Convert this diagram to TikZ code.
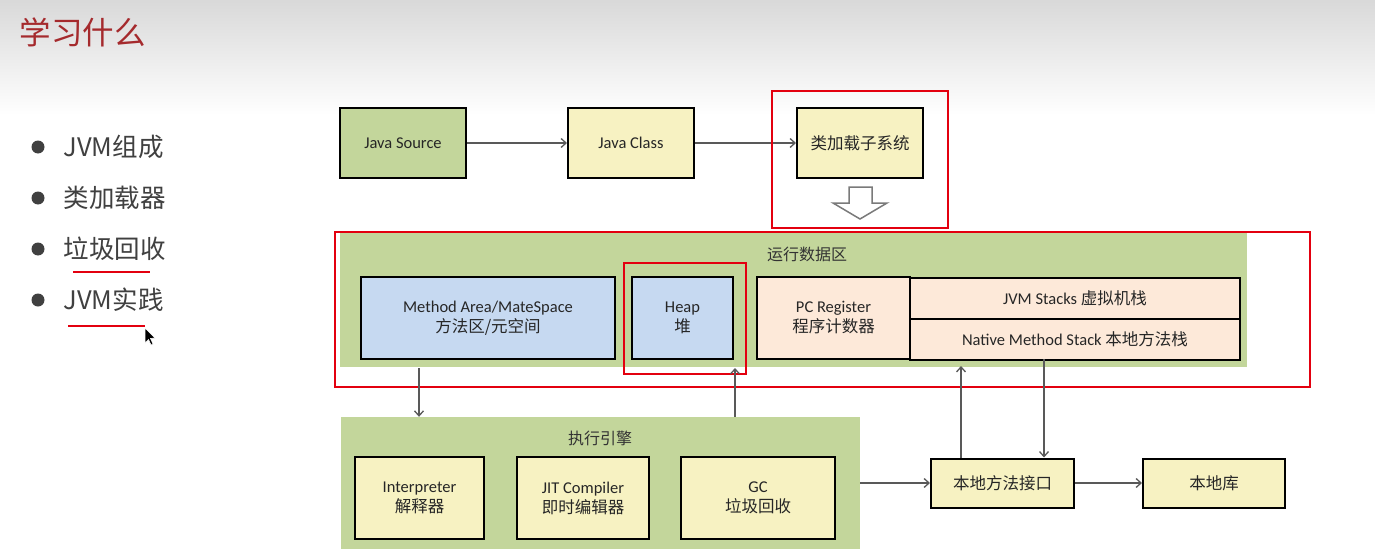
\documentclass[tikz,border=0pt]{standalone}
\usepackage{fontspec}
\setmainfont{Carlito}
\newfontfamily\cjk{Noto Sans CJK SC}
\usetikzlibrary{arrows.meta,calc}
\definecolor{grn}{HTML}{C3D69B}
\definecolor{ylw}{HTML}{F7F2C2}
\definecolor{blu}{HTML}{C6D9F1}
\definecolor{pch}{HTML}{FDE9D9}
\definecolor{redl}{HTML}{E3000F}
\definecolor{arrc}{HTML}{595959}
\definecolor{ttl}{HTML}{A52A2D}
\definecolor{txt}{HTML}{404040}
\tikzset{
  box/.style={draw=black, line width=2pt, inner sep=0pt, align=center, font=\fontsize{16.5}{20}\selectfont, text=black!85},
  area/.style={fill=grn, draw=none, inner sep=0pt},
  arr/.style={draw=arrc, line width=1.3pt, -{Straight Barb[length=5pt,width=9pt,line width=1.3pt]}},
  redbox/.style={draw=redl, line width=2pt},
  bul/.style={anchor=west, text=txt, font=\cjk\fontsize{25.5}{28}\selectfont},
  dot/.style={circle, fill=txt, inner sep=0pt, minimum size=13pt},
  lbl/.style={font=\cjk\fontsize{16}{18}\selectfont, text=black!80}
}
\begin{document}
\begin{tikzpicture}[x=1pt,y=-1pt]
\useasboundingbox (0,0) rectangle (1375,559);
\fill[white] (0,0) rectangle (1375,559);
\shade[top color=black!15, bottom color=white] (0,0) rectangle (1375,115);
% title
\node[anchor=west, text=ttl, font=\cjk\fontsize{31.5}{34}\selectfont] (title) at (16,32) {学习什么};
% bullets
\node[dot] (d1) at (38,147) {};
\node[dot] (d2) at (38,198) {};
\node[dot] (d3) at (38,249) {};
\node[dot] (d4) at (38,300) {};
\node[bul] (b1) at (60,147) {JVM组成};
\node[bul] (b2) at (60,198) {类加载器};
\node[bul] (b3) at (60,249) {垃圾回收};
\node[bul] (b4) at (60,300) {JVM实践};
\draw[redl, line width=2.5pt] (73,272) -- (150,272);
\draw[redl, line width=2.5pt] (68,326) -- (145,326);
% cursor
\draw[fill=black, draw=white, line width=0.6pt] (145,328) -- (145,343) -- (148.5,339.5) -- (151,345) -- (153,344) -- (150.5,338.5) -- (155,338) -- cycle;
% top row
\node[box, fill=grn, minimum width=126pt, minimum height=70pt] (js) at (403,143) {Java Source};
\node[box, fill=ylw, minimum width=126pt, minimum height=70pt] (jc) at (631,143) {Java Class};
\node[box, fill=ylw, minimum width=126pt, minimum height=70pt] (cl) at (860,143) {\cjk 类加载子系统};
\draw[arr] (js) -- (jc);
\draw[arr] (jc) -- (cl);
\draw[redbox] (772,91) rectangle (948,228);
\draw[arrc!80, fill=white, line width=1.5pt] (849,187) -- (872,187) -- (872,203) -- (887,203) -- (860,219) -- (833,203) -- (849,203) -- cycle;
% runtime data area
\node[area, minimum width=907pt, minimum height=134pt] (rda) at (793.5,300) {};
\node[lbl] (rdal) at (807,254) {运行数据区};
\node[box, fill=blu, minimum width=254pt, minimum height=82pt] (ma) at (488,318) {Method Area/MateSpace\\{\cjk 方法区/元空间}};
\node[box, fill=blu, minimum width=101pt, minimum height=82pt] (heap) at (682.5,318) {Heap\\{\cjk 堆}};
\node[box, fill=pch, minimum width=153pt, minimum height=82pt] (pc) at (833.5,318) {PC Register\\{\cjk 程序计数器}};
\node[box, fill=pch, minimum width=330pt, minimum height=41pt] (jvms) at (1075,298) {JVM Stacks {\cjk 虚拟机栈}};
\node[box, fill=pch, minimum width=330pt, minimum height=41pt] (nms) at (1075,339) {Native Method Stack {\cjk 本地方法栈}};
\draw[redbox] (335,232) rectangle (1310,387);
\draw[redbox] (624,263) rectangle (746,374);
% execution engine
\node[area, minimum width=519pt, minimum height=132pt] (ee) at (600.5,483) {};
\node[lbl] (eel) at (600,438) {执行引擎};
\node[box, fill=ylw, minimum width=129pt, minimum height=82pt] (int) at (419.5,498) {Interpreter\\{\cjk 解释器}};
\node[box, fill=ylw, minimum width=132pt, minimum height=82pt] (jit) at (583,498) {JIT Compiler\\{\cjk 即时编辑器}};
\node[box, fill=ylw, minimum width=154pt, minimum height=82pt] (gc) at (758,498) {GC\\{\cjk 垃圾回收}};
\node[box, fill=ylw, minimum width=143pt, minimum height=49pt] (nmi) at (1002.5,483) {\cjk 本地方法接口};
\node[box, fill=ylw, minimum width=142pt, minimum height=49pt] (lib) at (1214,483) {\cjk 本地库};
% connectors
\coordinate (maout) at (419,368);
\coordinate (heapin) at (735,368);
\coordinate (nmiup) at (961,366);
\coordinate (nmsdown) at (1044,359);
\draw[arr] (maout) -- (maout |- ee.north);
\draw[arr] (heapin |- ee.north) -- (heapin);
\draw[arr] (nmiup |- nmi.north) -- (nmiup);
\draw[arr] (nmsdown) -- (nmsdown |- nmi.north);
\draw[arr] (ee.east) -- (ee.east -| nmi.west);
\draw[arr] (nmi) -- (lib);
\end{tikzpicture}
\end{document}
